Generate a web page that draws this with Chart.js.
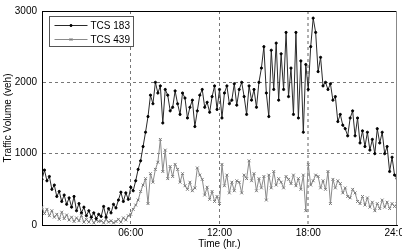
<!DOCTYPE html>
<html>
<head>
<meta charset="utf-8">
<script src="https://cdn.jsdelivr.net/npm/chart.js@4/dist/chart.umd.min.js"></script>
<style>
    html, body { margin: 0; padding: 0; background: #fff; overflow: hidden; }
    #wrap { width: 412px; height: 250px; }
</style>
</head>
<body>
<div id="wrap"><canvas id="trafficChart" width="412" height="250"></canvas></div>
<script>
// 10分間隔の交通量（veh）
const INTERVAL_MIN = 10;

const seriesNames = ['TCS 183', 'TCS 439'];

const tcs183 = [
    640, 770, 620, 680, 500, 560,       // 0h
    400, 470, 330, 420, 290, 380,       // 1h
    250, 400, 200, 300, 170, 250,       // 2h
    130, 200, 110, 170, 90, 150,        // 3h
    120, 260, 110, 230, 170, 290,       // 4h
    240, 350, 460, 330, 450, 360,       // 5h
    530, 480, 620, 780, 900, 1100,      // 6h
    1300, 1520, 1820, 1700, 2000, 1850, // 7h
    1950, 1430, 1900, 1820, 1600, 1650, // 8h
    1880, 1700, 1550, 1850, 1780, 1500, // 9h
    1650, 1750, 1380, 1600, 1820, 1900, // 10h
    1650, 1720, 1580, 1800, 1950, 1620, // 11h
    1900, 1500, 1850, 1950, 1700, 1750, // 12h
    1980, 1680, 1900, 2000, 1800, 1550, // 13h
    1950, 1750, 1900, 1650, 2000, 2200, // 14h
    2500, 1850, 1520, 2450, 1900, 2550, // 15h
    1750, 2400, 1900, 2700, 1800, 2200, // 16h
    1550, 2700, 1500, 2300, 1300, 2250, // 17h
    1900, 2500, 2900, 2700, 2150, 2350, // 18h
    1950, 2000, 1900, 1980, 1750, 1800, // 19h
    1450, 1550, 1400, 1350, 1250, 1500, // 20h
    1600, 1250, 1500, 1150, 1320, 1100, // 21h
    1300, 1050, 1200, 1000, 1350, 1150, // 22h
    1300, 1000, 1100, 750, 950, 700,    // 23h
    650,                                // 24h
];

const tcs439 = [
    250, 160, 220, 130, 200, 110,  // 0h
    150, 80, 180, 90, 140, 70,     // 1h
    110, 50, 100, 60, 130, 40,     // 2h
    80, 40, 90, 30, 70, 50,        // 3h
    60, 30, 80, 40, 60, 30,        // 4h
    50, 80, 40, 100, 70, 130,      // 5h
    150, 220, 280, 350, 470, 560,  // 6h
    650, 300, 720, 600, 780, 880,  // 7h
    1200, 750, 1050, 650, 820, 680, // 8h
    850, 780, 600, 720, 550, 500,  // 9h
    600, 480, 520, 800, 700, 640,  // 10h
    420, 530, 360, 470, 330, 400,  // 11h
    300, 850, 550, 700, 450, 600,  // 12h
    480, 620, 600, 450, 700, 650,  // 13h
    900, 620, 720, 480, 650, 520,  // 14h
    680, 350, 700, 520, 750, 560,  // 15h
    650, 600, 520, 680, 640, 580,  // 16h
    700, 550, 650, 500, 700, 200,  // 17h
    850, 560, 620, 700, 680, 520,  // 18h
    620, 500, 750, 300, 640, 520,  // 19h
    620, 580, 450, 520, 400, 380,  // 20h
    500, 450, 330, 300, 400, 280,  // 21h
    380, 250, 320, 200, 300, 230,  // 22h
    350, 250, 320, 230, 300, 260,  // 23h
    300,                           // 24h
];

const xTicks = [0, 6, 12, 18, 24];
const yTicks = [0, 1000, 2000, 3000];

const FONT = "'Liberation Sans', Arial, sans-serif";

/**
 * 時刻(hr)と値のペアを作る
 */
function toPoints(values) {
    return values.map((v, i) => ({ x: (i * INTERVAL_MIN) / 60, y: v }));
}

/**
 * 時刻ラベル（06:00 形式）
 */
function hourLabel(h) {
    if (h === 0) return '';
    return `${String(h).padStart(2, '0')}:00`;
}

// 枠線（上・右）
const framePlugin = {
    id: 'frame',
    afterDraw: (chart) => {
        const { ctx, chartArea: a } = chart;
        ctx.save();
        ctx.lineWidth = 1;
        ctx.strokeStyle = '#000';
        ctx.beginPath();
        ctx.moveTo(a.left, a.top + 0.5);
        ctx.lineTo(a.right, a.top + 0.5);
        ctx.stroke();
        ctx.strokeStyle = '#888';
        ctx.beginPath();
        ctx.moveTo(Math.round(a.right) - 0.5, a.top);
        ctx.lineTo(Math.round(a.right) - 0.5, a.bottom);
        ctx.stroke();
        ctx.restore();
    },
};

// 凡例（プロット内左上）
const boxLegendPlugin = {
    id: 'boxLegend',
    afterDraw: (chart) => {
        const { ctx, chartArea: a } = chart;
        const left = Math.round(a.left) + 7.5;
        const top = Math.round(a.top) + 5.5;
        const w = 84;
        const h = 30;
        ctx.save();
        ctx.fillStyle = '#fff';
        ctx.fillRect(left, top, w, h);
        ctx.strokeStyle = '#555';
        ctx.lineWidth = 1;
        ctx.strokeRect(left, top, w, h);

        chart.data.datasets.forEach((ds, i) => {
            const y = Math.round(top + 8 + i * 14) + 0.5;
            ctx.strokeStyle = ds.borderColor;
            ctx.lineWidth = 1;
            ctx.beginPath();
            ctx.moveTo(left + 5, y);
            ctx.lineTo(left + 38, y);
            ctx.stroke();
            ctx.fillStyle = ds.pointBackgroundColor;
            ctx.strokeStyle = ds.pointBorderColor;
            Chart.helpers.drawPoint(ctx, { pointStyle: ds.pointStyle, radius: ds.pointRadius, rotation: 0, borderWidth: 1 }, left + 21.5, y);
            ctx.fillStyle = '#000';
            ctx.font = `10px ${FONT}`;
            ctx.textAlign = 'left';
            ctx.textBaseline = 'middle';
            ctx.fillText(ds.label, left + 41, y + 0.5);
        });
        ctx.restore();
    },
};

const ctx = document.getElementById('trafficChart').getContext('2d');

new Chart(ctx, {
    type: 'line',
    data: {
        datasets: [
            {
                label: seriesNames[0],
                data: toPoints(tcs183),
                borderColor: '#2a2a2a',
                borderWidth: 1,
                pointStyle: 'circle',
                pointRadius: 1.1,
                pointBackgroundColor: '#000',
                pointBorderColor: '#000',
                pointBorderWidth: 1,
                tension: 0,
            },
            {
                label: seriesNames[1],
                data: toPoints(tcs439),
                borderColor: '#8a8a8a',
                borderWidth: 1,
                pointStyle: 'crossRot',
                pointRadius: 2,
                pointBackgroundColor: '#777',
                pointBorderColor: '#777',
                pointBorderWidth: 1,
                tension: 0,
            },
        ],
    },
    options: {
        responsive: false,
        animation: false,
        devicePixelRatio: 1,
        layout: { padding: { top: 7, right: 15, left: 0, bottom: 0 } },
        plugins: {
            legend: { display: false },
            tooltip: { enabled: false },
        },
        scales: {
            x: {
                type: 'linear',
                min: 0,
                max: 24,
                afterBuildTicks: (scale) => {
                    scale.ticks = xTicks.map((v) => ({ value: v }));
                },
                afterFit: (scale) => {
                    scale.height = 25;
                },
                ticks: {
                    padding: 2,
                    maxRotation: 0,
                    autoSkip: false,
                    color: '#000',
                    font: { family: FONT, size: 10 },
                    callback: (v) => hourLabel(v),
                },
                grid: {
                    drawTicks: false,
                    color: (c) => (c.tick && c.tick.value > 0 && c.tick.value < 24 ? (c.tick.value === 18 ? '#b0b0b0' : '#777') : 'rgba(0,0,0,0)'),
                    lineWidth: (c) => (c.tick && c.tick.value === 18 ? 2 : 1),
                },
                border: { display: true, color: '#000', width: 1, dash: [3, 3] },
                title: {
                    display: true,
                    text: 'Time (hr.)',
                    color: '#000',
                    font: { family: FONT, size: 10 },
                    padding: { top: 0, bottom: 0 },
                },
            },
            y: {
                min: 0,
                max: 3000,
                afterBuildTicks: (scale) => {
                    scale.ticks = yTicks.map((v) => ({ value: v }));
                },
                afterFit: (scale) => {
                    scale.width = 42;
                },
                ticks: {
                    padding: 5,
                    color: '#000',
                    font: { family: FONT, size: 10 },
                    callback: (v) => String(v),
                },
                grid: {
                    drawTicks: false,
                    color: (c) => (c.tick && c.tick.value > 0 && c.tick.value < 3000 ? '#777' : 'rgba(0,0,0,0)'),
                },
                border: { display: true, color: '#000', width: 1, dash: [3, 3] },
                title: {
                    display: true,
                    text: 'Traffic Volume (veh)',
                    color: '#000',
                    font: { family: FONT, size: 10 },
                    padding: { top: 2, bottom: 0 },
                },
            },
        },
    },
    plugins: [framePlugin, boxLegendPlugin],
});
</script>
</body>
</html>
